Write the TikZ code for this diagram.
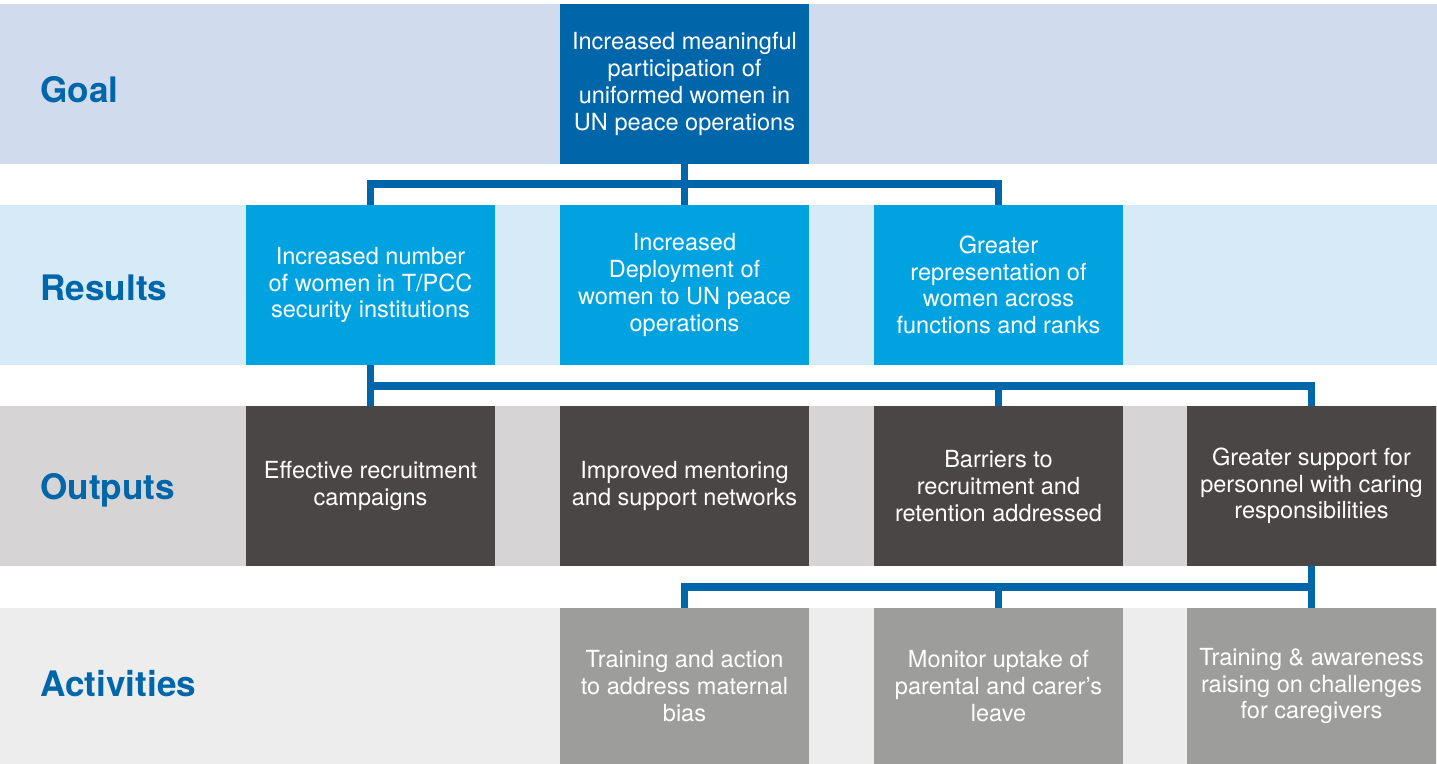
\documentclass[tikz,border=0pt]{standalone}
\usepackage{fontspec}
\setmainfont{TeX Gyre Heros}
\definecolor{goalband}{HTML}{D0DCEE}
\definecolor{resband}{HTML}{D6EAF8}
\definecolor{outband}{HTML}{D7D4D5}
\definecolor{actband}{HTML}{EDEDED}
\definecolor{unblue}{HTML}{0066AA}
\definecolor{rescyan}{HTML}{00A3E0}
\definecolor{outgrey}{HTML}{4A4645}
\definecolor{actgrey}{HTML}{9D9D9B}
\tikzset{
    box/.style={minimum width=4.98cm, minimum height=3.2cm, inner sep=0pt,
        align=center, text=white, font=\fontsize{13.4}{15.2}\selectfont},
    goalbox/.style={box, fill=unblue},
    resbox/.style={box, fill=rescyan},
    outbox/.style={box, fill=outgrey},
    actbox/.style={box, fill=actgrey, minimum height=3.12cm},
    rowlabel/.style={anchor=base west, inner sep=0pt, text=unblue,
        font=\fontsize{20}{24}\selectfont\bfseries},
    link/.style={draw=unblue, line width=4.3pt, line join=miter}
}

\begin{document}
\begin{tikzpicture}[x=0.02cm, y=-0.02cm]
    \useasboundingbox (0,0) rectangle (1437,764);

    % Background bands
    \fill[goalband] (0,4) rectangle (1437,164);
    \fill[resband] (0,205) rectangle (1437,365);
    \fill[outband] (0,406) rectangle (1437,566);
    \fill[actband] (0,608) rectangle (1437,764);

    % Row labels
    \node[rowlabel] (lgoal) at (40,102) {Goal};
    \node[rowlabel] (lres) at (40,300) {Results};
    \node[rowlabel] (lout) at (40,499) {Outputs};
    \node[rowlabel] (lact) at (40,696) {Activities};

    % Goal
    \node[goalbox] (goal) at (684.5,84) {Increased meaningful\\participation of\\uniformed women in\\UN peace operations};

    % Results
    \node[resbox] (res1) at (370.5,285) {Increased number\\of women in T/PCC\\security institutions};
    \node[resbox] (res2) at (684.5,285) {Increased\\Deployment of\\women to UN peace\\operations};
    \node[resbox] (res3) at (998.5,285) {Greater\\representation of\\women across\\functions and ranks};

    % Outputs
    \node[outbox] (out1) at (370.5,486) {Effective recruitment\\campaigns};
    \node[outbox] (out2) at (684.5,486) {Improved mentoring\\and support networks};
    \node[outbox] (out3) at (998.5,486) {Barriers to\\recruitment and\\retention addressed};
    \node[outbox] (out4) at (1311.5,486) {Greater support for\\personnel with caring\\responsibilities};

    % Activities
    \node[actbox] (act1) at (684.5,686) {Training and action\\to address maternal\\bias};
    \node[actbox] (act2) at (998.5,686) {Monitor uptake of\\parental and carer’s\\leave};
    \node[actbox] (act3) at (1311.5,686) {Training \& awareness\\raising on challenges\\for caregivers};

    % Connectors
    \coordinate (gj) at (684.5,184);
    \coordinate (oj) at (370.5,386);
    \coordinate (aj) at (1311.5,587);
    \draw[link] (goal.south) -- (res2.north);
    \draw[link] (res1.north) |- (gj) -| (res3.north);
    \draw[link] (res1.south) -- (out1.north);
    \draw[link] (oj) -| (out4.north);
    \draw[link] (out3.north) -- (out3.north |- oj);
    \draw[link] (out4.south) -- (act3.north);
    \draw[link] (act1.north) |- (aj);
    \draw[link] (act2.north) -- (act2.north |- aj);
\end{tikzpicture}
\end{document}
